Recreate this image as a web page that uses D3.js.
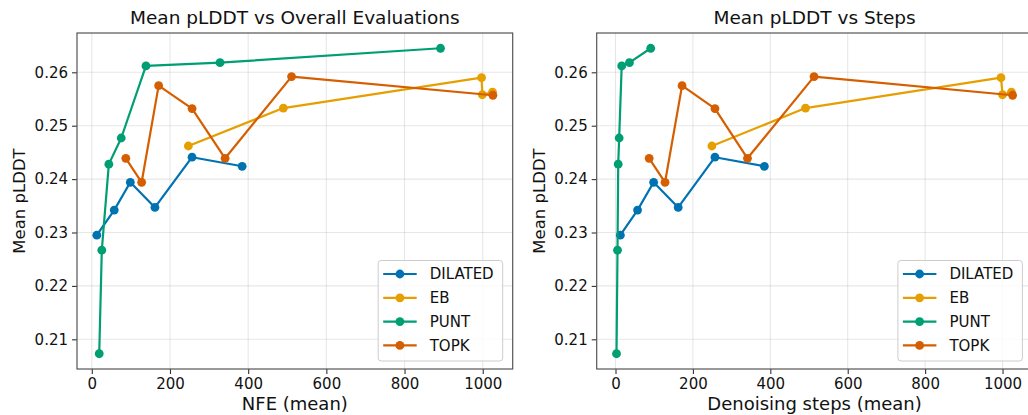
<!DOCTYPE html>
<html>
<head>
<meta charset="utf-8">
<script src="https://cdn.jsdelivr.net/npm/d3@7"></script>
<style>
  body { margin: 0; background: #fff; }
  svg { display: block; font-family: "DejaVu Sans", sans-serif; }
</style>
</head>
<body>
<div id="chart"></div>
<script>
// series
const methods = ["DILATED", "EB", "PUNT", "TOPK"];
const colors = ["#0072B2", "#E69F00", "#009E73", "#D55E00"];

const dilatedNfe   = [12.8, 57.4, 98.5, 161.5, 256.4, 384.6];
const dilatedSteps = [12.5, 57, 98.5, 162, 257, 384.6];
const dilatedPlddt = [0.2295, 0.2342, 0.2394, 0.2347, 0.2441, 0.2424];

const ebNfe   = [247, 490, 997, 999, 1025];
const ebSteps = [249, 491, 996, 1000, 1023];
const ebPlddt = [0.2462, 0.2533, 0.2590, 0.2558, 0.2563];

const puntNfe   = [19, 25.6, 43.6, 75.3, 138.5, 328, 892];
const puntSteps = [2.6, 5.2, 7, 9.5, 16, 36, 91];
const puntPlddt = [0.2073, 0.2267, 0.2428, 0.2477, 0.2612, 0.2618, 0.2645];

const topkNfe   = [87, 127.5, 171, 256.5, 341, 511, 1026];
const topkSteps = [87, 128, 172, 257, 341, 513, 1026];
const topkPlddt = [0.2439, 0.2394, 0.2575, 0.2532, 0.2439, 0.2592, 0.2557];

const xTicks = [0, 200, 400, 600, 800, 1000];
const yTicks = [0.21, 0.22, 0.23, 0.24, 0.25, 0.26];

const panels = [
  { title: "Mean pLDDT vs Overall Evaluations", xlabel: "NFE (mean)",
    xs: [dilatedNfe, ebNfe, puntNfe, topkNfe], left: 77 },
  { title: "Mean pLDDT vs Steps", xlabel: "Denoising steps (mean)",
    xs: [dilatedSteps, ebSteps, puntSteps, topkSteps], left: 596.7 }
];
const ys = [dilatedPlddt, ebPlddt, puntPlddt, topkPlddt];

const W = 1028, H = 415;
const plotW = 435.7, plotTop = 33, plotBottom = 369;

const svg = d3.select("#chart").append("svg")
  .attr("width", W).attr("height", H);

// matplotlib style 5% margins
function padded(vals) {
  let ext = d3.extent(vals);
  let p = (ext[1] - ext[0]) * 0.05;
  return [ext[0] - p, ext[1] + p];
}

const y = d3.scaleLinear()
  .domain(padded(ys.flat()))
  .range([plotBottom, plotTop]);

panels.forEach(function(pn) {
  let x = d3.scaleLinear()
    .domain(padded(pn.xs.flat()))
    .range([pn.left, pn.left + plotW]);

  let g = svg.append("g");

  // grid
  g.selectAll(".gx").data(xTicks).enter().append("line")
    .attr("x1", d => x(d)).attr("x2", d => x(d))
    .attr("y1", plotTop).attr("y2", plotBottom)
    .attr("stroke", "#b0b0b0").attr("stroke-opacity", 0.3).attr("stroke-width", 1.1);
  g.selectAll(".gy").data(yTicks).enter().append("line")
    .attr("x1", pn.left).attr("x2", pn.left + plotW)
    .attr("y1", d => y(d)).attr("y2", d => y(d))
    .attr("stroke", "#b0b0b0").attr("stroke-opacity", 0.3).attr("stroke-width", 1.1);

  // series
  let line = d3.line().x(d => x(d[0])).y(d => y(d[1]));
  methods.forEach(function(m, i) {
    let pts = pn.xs[i].map((v, k) => [v, ys[i][k]]);
    g.append("path").datum(pts)
      .attr("d", line)
      .attr("fill", "none")
      .attr("stroke", colors[i])
      .attr("stroke-width", 2.2)
      .attr("stroke-linejoin", "round");
    g.selectAll(".pt" + i).data(pts).enter().append("circle")
      .attr("cx", d => x(d[0])).attr("cy", d => y(d[1]))
      .attr("r", 4.4)
      .attr("fill", colors[i]);
  });

  // axes
  let xAxis = g.append("g")
    .attr("transform", "translate(0," + plotBottom + ")")
    .call(d3.axisBottom(x).tickValues(xTicks).tickFormat(d3.format("d")).tickSize(5).tickPadding(4));
  let yAxis = g.append("g")
    .attr("transform", "translate(" + pn.left + ",0)")
    .call(d3.axisLeft(y).tickValues(yTicks).tickFormat(d3.format(".2f")).tickSize(5).tickPadding(4));
  [xAxis, yAxis].forEach(function(a) {
    a.select(".domain").remove();
    a.selectAll("text").attr("font-size", "15px").attr("fill", "#111")
      .attr("font-family", "DejaVu Sans");
    a.selectAll("line").attr("stroke", "#333").attr("stroke-width", 1.1);
  });

  // spines
  g.append("rect")
    .attr("x", pn.left).attr("y", plotTop)
    .attr("width", plotW).attr("height", plotBottom - plotTop)
    .attr("fill", "none").attr("stroke", "#555").attr("stroke-width", 1.2);

  // titles
  let cx = pn.left + plotW / 2;
  g.append("text").attr("x", cx).attr("y", 24)
    .attr("text-anchor", "middle").attr("font-size", "18.5px").attr("fill", "#111")
    .text(pn.title);
  g.append("text").attr("x", cx).attr("y", 410)
    .attr("text-anchor", "middle").attr("font-size", "18px").attr("fill", "#111")
    .text(pn.xlabel);
  g.append("text")
    .attr("transform", "translate(" + (pn.left - 52) + "," + ((plotTop + plotBottom) / 2) + ") rotate(-90)")
    .attr("text-anchor", "middle").attr("font-size", "16.5px").attr("fill", "#111")
    .text("Mean pLDDT");

  // legend
  let lx = pn.left + plotW - 134.5, ly = 260.5;
  let lg = g.append("g").attr("transform", "translate(" + lx + "," + ly + ")");
  lg.append("rect")
    .attr("width", 124.5).attr("height", 100.5).attr("rx", 3)
    .attr("fill", "#fff").attr("fill-opacity", 0.8)
    .attr("stroke", "#cccccc").attr("stroke-width", 1);
  methods.forEach(function(m, i) {
    let yy = 13.5 + i * 23.8;
    lg.append("line").attr("x1", 5).attr("x2", 38.5).attr("y1", yy).attr("y2", yy)
      .attr("stroke", colors[i]).attr("stroke-width", 2.2);
    lg.append("circle").attr("cx", 21.7).attr("cy", yy).attr("r", 4.4).attr("fill", colors[i]);
    lg.append("text").attr("x", 51.5).attr("y", yy).attr("dy", "0.36em")
      .attr("font-size", "15px").attr("fill", "#111").text(m);
  });
});
</script>
</body>
</html>
